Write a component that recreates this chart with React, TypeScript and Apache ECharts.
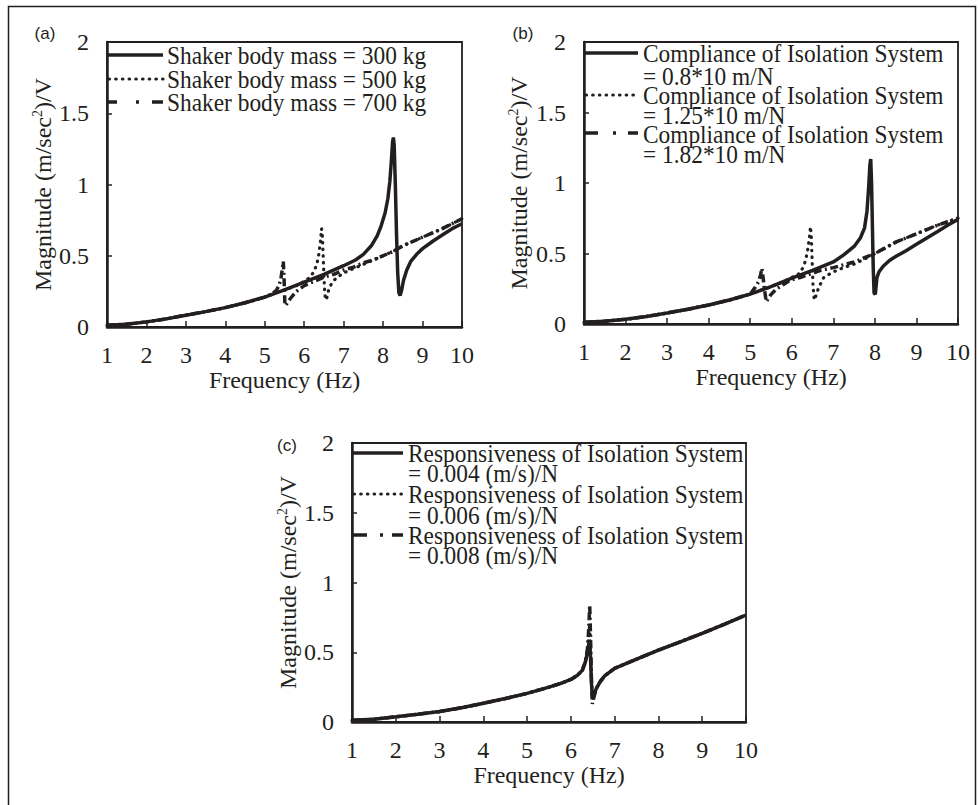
import React, { useEffect, useRef } from "react";
import * as echarts from "echarts";

// ---------- data ----------
const xTicks = [1, 10]; // x axis range (Hz)
const yRange = [0, 2]; // y axis range

// Panel (a): shaker body mass
const freqA300 = [1, 1.5, 2, 2.5, 3, 3.5, 4, 4.5, 5, 5.5, 6, 6.5, 7, 7.3, 7.5, 7.7, 7.85, 7.95, 8.05, 8.12, 8.17, 8.21, 8.24, 8.26, 8.28, 8.31, 8.34, 8.37, 8.4, 8.43, 8.47, 8.52, 8.6, 8.7, 8.85, 9, 9.25, 9.5, 9.75, 10];
const magA300 = [0.012, 0.02, 0.036, 0.057, 0.083, 0.108, 0.136, 0.17, 0.21, 0.26, 0.315, 0.37, 0.43, 0.47, 0.51, 0.57, 0.64, 0.71, 0.8, 0.9, 1.02, 1.17, 1.3, 1.33, 1.28, 1.0, 0.65, 0.38, 0.24, 0.22, 0.26, 0.33, 0.4, 0.46, 0.51, 0.55, 0.6, 0.645, 0.69, 0.725];
const freqA500 = [1, 1.5, 2, 2.5, 3, 3.5, 4, 4.5, 5, 5.5, 5.8, 6, 6.15, 6.25, 6.32, 6.37, 6.41, 6.44, 6.46, 6.48, 6.5, 6.52, 6.54, 6.57, 6.62, 6.7, 6.8, 7, 7.25, 7.5, 7.75, 8, 8.25, 8.5, 8.75, 9, 9.25, 9.5, 9.75, 10];
const magA500 = [0.012, 0.02, 0.036, 0.057, 0.083, 0.108, 0.136, 0.17, 0.21, 0.26, 0.29, 0.32, 0.35, 0.39, 0.44, 0.51, 0.6, 0.69, 0.64, 0.5, 0.36, 0.24, 0.19, 0.2, 0.26, 0.31, 0.34, 0.38, 0.41, 0.44, 0.47, 0.5, 0.53, 0.57, 0.6, 0.63, 0.66, 0.69, 0.725, 0.76];
const freqA700 = [1, 1.5, 2, 2.5, 3, 3.5, 4, 4.5, 5, 5.2, 5.3, 5.36, 5.41, 5.45, 5.47, 5.49, 5.51, 5.53, 5.57, 5.65, 5.8, 6, 6.25, 6.5, 6.75, 7, 7.25, 7.5, 7.75, 8, 8.25, 8.5, 8.75, 9, 9.25, 9.5, 9.75, 10];
const magA700 = [0.012, 0.02, 0.036, 0.057, 0.083, 0.108, 0.136, 0.17, 0.21, 0.235, 0.26, 0.29, 0.34, 0.42, 0.46, 0.33, 0.16, 0.15, 0.17, 0.2, 0.25, 0.29, 0.32, 0.35, 0.37, 0.4, 0.42, 0.45, 0.47, 0.5, 0.53, 0.57, 0.6, 0.63, 0.66, 0.69, 0.725, 0.76];

// Panel (b): compliance of isolation system
const freqB08 = [1, 1.5, 2, 2.5, 3, 3.5, 4, 4.5, 5, 5.5, 6, 6.5, 7, 7.25, 7.5, 7.65, 7.75, 7.81, 7.85, 7.88, 7.9, 7.92, 7.94, 7.96, 7.98, 8.01, 8.05, 8.1, 8.2, 8.35, 8.5, 8.75, 9, 9.25, 9.5, 9.75, 10];
const magB08 = [0.012, 0.02, 0.033, 0.053, 0.078, 0.105, 0.135, 0.17, 0.212, 0.265, 0.325, 0.38, 0.44, 0.49, 0.55, 0.61, 0.68, 0.8, 0.97, 1.13, 1.17, 1.0, 0.7, 0.4, 0.22, 0.21, 0.33, 0.37, 0.41, 0.45, 0.478, 0.52, 0.565, 0.61, 0.655, 0.7, 0.742];
const freqB125 = [1, 1.5, 2, 2.5, 3, 3.5, 4, 4.5, 5, 5.5, 5.8, 6, 6.2, 6.3, 6.37, 6.42, 6.45, 6.47, 6.49, 6.51, 6.54, 6.58, 6.65, 6.77, 7, 7.25, 7.5, 7.75, 8, 8.25, 8.5, 8.75, 9, 9.25, 9.5, 9.75, 10];
const magB125 = [0.012, 0.02, 0.033, 0.053, 0.078, 0.105, 0.135, 0.17, 0.212, 0.265, 0.3, 0.33, 0.36, 0.42, 0.5, 0.6, 0.69, 0.62, 0.45, 0.28, 0.17, 0.2, 0.26, 0.33, 0.37, 0.4, 0.425, 0.46, 0.5, 0.54, 0.58, 0.61, 0.64, 0.67, 0.7, 0.725, 0.75];
const freqB182 = [1, 1.5, 2, 2.5, 3, 3.5, 4, 4.5, 5, 5.12, 5.2, 5.25, 5.28, 5.31, 5.34, 5.37, 5.39, 5.43, 5.5, 5.64, 5.8, 5.96, 6.2, 6.5, 6.69, 7, 7.25, 7.5, 7.75, 8, 8.25, 8.5, 8.75, 9, 9.25, 9.5, 9.75, 10];
const magB182 = [0.012, 0.02, 0.033, 0.053, 0.078, 0.105, 0.135, 0.17, 0.212, 0.26, 0.3, 0.35, 0.395, 0.33, 0.25, 0.19, 0.158, 0.18, 0.21, 0.25, 0.28, 0.31, 0.33, 0.36, 0.38, 0.4, 0.42, 0.44, 0.47, 0.5, 0.54, 0.58, 0.61, 0.64, 0.67, 0.7, 0.725, 0.75];

// Panel (c): responsiveness of isolation system
const freqC = [1, 1.5, 2, 2.5, 3, 3.5, 4, 4.5, 5, 5.5, 5.8, 6, 6.15, 6.26, 6.33, 6.38, 6.41, 6.43, 6.45, 6.47, 6.49, 6.52, 6.58, 6.67, 6.77, 7, 7.5, 8, 8.5, 9, 9.5, 10];
const magC004 = [0.012, 0.02, 0.037, 0.055, 0.075, 0.102, 0.134, 0.168, 0.205, 0.25, 0.28, 0.305, 0.335, 0.37, 0.43, 0.5, 0.56, 0.58, 0.45, 0.28, 0.18, 0.19, 0.24, 0.29, 0.33, 0.385, 0.45, 0.515, 0.575, 0.636, 0.7, 0.767];
const magC006 = [0.012, 0.02, 0.037, 0.055, 0.075, 0.102, 0.134, 0.168, 0.205, 0.25, 0.28, 0.305, 0.335, 0.37, 0.43, 0.52, 0.62, 0.7, 0.5, 0.3, 0.16, 0.18, 0.24, 0.29, 0.33, 0.385, 0.45, 0.515, 0.575, 0.636, 0.7, 0.767];
const magC008 = [0.012, 0.02, 0.037, 0.055, 0.075, 0.102, 0.134, 0.168, 0.205, 0.25, 0.28, 0.305, 0.335, 0.37, 0.43, 0.53, 0.68, 0.84, 0.6, 0.3, 0.13, 0.17, 0.24, 0.29, 0.33, 0.385, 0.45, 0.515, 0.575, 0.636, 0.7, 0.767];

const legendA = ["Shaker body mass = 300 kg", "Shaker body mass = 500 kg", "Shaker body mass = 700 kg"];
const legendB = [
  ["Compliance of Isolation System", "= 0.8*10 m/N"],
  ["Compliance of Isolation System", "= 1.25*10 m/N"],
  ["Compliance of Isolation System", "= 1.82*10 m/N"],
];
const legendC = [
  ["Responsiveness of Isolation System", "= 0.004 (m/s)/N"],
  ["Responsiveness of Isolation System", "= 0.006 (m/s)/N"],
  ["Responsiveness of Isolation System", "= 0.008 (m/s)/N"],
];
const panelLabels = ["(a)", "(b)", "(c)"];

// ---------- styles ----------
const SERIF = "Liberation Serif";
const SANS = "Liberation Sans";
const INK = "#231f20";

const STYLE_SOLID = { color: INK, width: 3.5, type: "solid" as any };
const STYLE_DOT = { color: INK, width: 3.2, type: [0.5, 6.2] as any, cap: "round" as any };
const STYLE_DASHDOT = { color: INK, width: 3.5, type: [8, 3.5, 2, 3.5] as any, cap: "butt" as any };

const grids = [
  { left: 107, top: 42, width: 355, height: 285 },
  { left: 584, top: 42, width: 374, height: 282 },
  { left: 352, top: 443, width: 394, height: 279 },
];

function pairs(f: number[], m: number[]) {
  return f.map((x, i) => [x, m[i]]);
}

const tickText = { fontFamily: SERIF, fontSize: 24, color: INK };

function xAxis(gi: number) {
  return {
    type: "value",
    gridIndex: gi,
    min: xTicks[0],
    max: xTicks[1],
    interval: 1,
    name: "Frequency (Hz)",
    nameLocation: "middle",
    nameGap: 38,
    nameTextStyle: { ...tickText },
    axisLine: { show: true, onZero: false, lineStyle: { color: INK, width: 2.5 } },
    axisTick: { show: true, inside: true, length: 6, lineStyle: { color: INK, width: 1.5 } },
    axisLabel: { ...tickText, margin: 16 },
    splitLine: { show: false },
  };
}

function yAxis(gi: number, gap: number) {
  return {
    type: "value",
    gridIndex: gi,
    min: yRange[0],
    max: yRange[1],
    interval: 0.5,
    name: "{t|Magnitude (m/sec}{s|2}{t|)/V}",
    nameLocation: "middle",
    nameGap: gap,
    nameTextStyle: {
      ...tickText,
      rich: {
        t: { fontFamily: SERIF, fontSize: 24, color: INK, lineHeight: 26 },
        s: { fontFamily: SERIF, fontSize: 14, color: INK, lineHeight: 14, verticalAlign: "top" },
      },
    },
    axisLine: { show: true, onZero: false, lineStyle: { color: INK, width: 2.5 } },
    axisTick: { show: true, inside: true, length: 5, lineStyle: { color: INK, width: 1.5 } },
    axisLabel: { ...tickText, margin: 18 },
    splitLine: { show: false },
  };
}

function line(gi: number, data: number[][], style: any) {
  return {
    type: "line",
    xAxisIndex: gi,
    yAxisIndex: gi,
    data,
    symbol: "none",
    showSymbol: false,
    smooth: false,
    lineStyle: style,
    emphasis: { disabled: true },
  };
}

function sample(x1: number, x2: number, y: number, kind: string, dash?: number[]) {
  const base: any = { type: "line", shape: { x1, y1: y, x2, y2: y }, silent: true };
  if (kind === "solid") base.style = { stroke: INK, lineWidth: 3.5 };
  else if (kind === "dot") base.style = { stroke: INK, lineWidth: 3.2, lineDash: [0.5, 6.2], lineCap: "round" };
  else base.style = { stroke: INK, lineWidth: 3.5, lineDash: dash, lineCap: "butt" };
  return base;
}

function txt(text: string, x: number, y: number, opts: any = {}) {
  return {
    type: "text",
    x,
    y,
    scaleX: opts.scaleX || 1,
    silent: true,
    style: {
      text,
      fill: INK,
      fontFamily: opts.font || SERIF,
      fontSize: opts.size || 25,
      align: opts.align || "left",
      verticalAlign: "middle",
    },
  };
}

const LG = { size: 25, scaleX: 0.935 };

export default function App() {
  const ref = useRef<HTMLDivElement>(null);

  useEffect(() => {
    if (!ref.current) return;
    const chart = echarts.init(ref.current, null, { renderer: "svg" });

    const graphics: any[] = [
      {
        type: "rect",
        shape: { x: 8.5, y: 6.5, width: 967, height: 812 },
        style: { fill: "none", stroke: INK, lineWidth: 1.5 },
        silent: true,
      },
      txt(panelLabels[0], 45, 33, { font: SANS, size: 17, align: "center" }),
      txt(panelLabels[1], 523, 33, { font: SANS, size: 17, align: "center" }),
      txt(panelLabels[2], 287, 445, { font: SANS, size: 17, align: "center" }),
      // legend (a)
      sample(107, 163, 55, "solid"),
      sample(109, 163, 79, "dot"),
      sample(107, 163, 102, "dashdot", [10, 19, 3, 13, 11, 20]),
      txt(legendA[0], 167, 55, LG),
      txt(legendA[1], 167, 79, LG),
      txt(legendA[2], 167, 102, LG),
      // legend (b)
      sample(584, 638, 53, "solid"),
      sample(586, 638, 95, "dot"),
      sample(584, 638, 133, "dashdot", [14, 15, 3, 12, 10, 20]),
      txt(legendB[0][0], 643, 53, LG),
      txt(legendB[0][1], 643, 76, LG),
      txt(legendB[1][0], 643, 95, LG),
      txt(legendB[1][1], 643, 115, LG),
      txt(legendB[2][0], 643, 134, LG),
      txt(legendB[2][1], 643, 154, LG),
      // legend (c)
      sample(352, 403, 453, "solid"),
      sample(354, 403, 494, "dot"),
      sample(352, 403, 535, "dashdot", [15, 13, 3, 9, 11, 20]),
      txt(legendC[0][0], 408, 453, LG),
      txt(legendC[0][1], 408, 473, LG),
      txt(legendC[1][0], 408, 494, LG),
      txt(legendC[1][1], 408, 515, LG),
      txt(legendC[2][0], 408, 535, LG),
      txt(legendC[2][1], 408, 555, LG),
    ];

    chart.setOption({
      animation: false,
      backgroundColor: "#ffffff",
      textStyle: { fontFamily: SERIF, color: INK },
      grid: grids.map((g) => ({ ...g, show: true, borderColor: INK, borderWidth: 1.8, backgroundColor: "transparent" })),
      xAxis: [xAxis(0), xAxis(1), xAxis(2)],
      yAxis: [yAxis(0, 50), yAxis(1, 52), yAxis(2, 48)],
      series: [
        line(0, pairs(freqA300, magA300), STYLE_SOLID),
        line(0, pairs(freqA500, magA500), STYLE_DOT),
        line(0, pairs(freqA700, magA700), STYLE_DASHDOT),
        line(1, pairs(freqB08, magB08), STYLE_SOLID),
        line(1, pairs(freqB125, magB125), STYLE_DOT),
        line(1, pairs(freqB182, magB182), STYLE_DASHDOT),
        line(2, pairs(freqC, magC004), STYLE_SOLID),
        line(2, pairs(freqC, magC006), STYLE_DOT),
        line(2, pairs(freqC, magC008), STYLE_DASHDOT),
      ],
      graphic: graphics,
    });

    return () => chart.dispose();
  }, []);

  return (
    <div
      ref={ref}
      style={{ position: "absolute", left: 0, top: 0, width: 979, height: 805, background: "#fff" }}
    />
  );
}
